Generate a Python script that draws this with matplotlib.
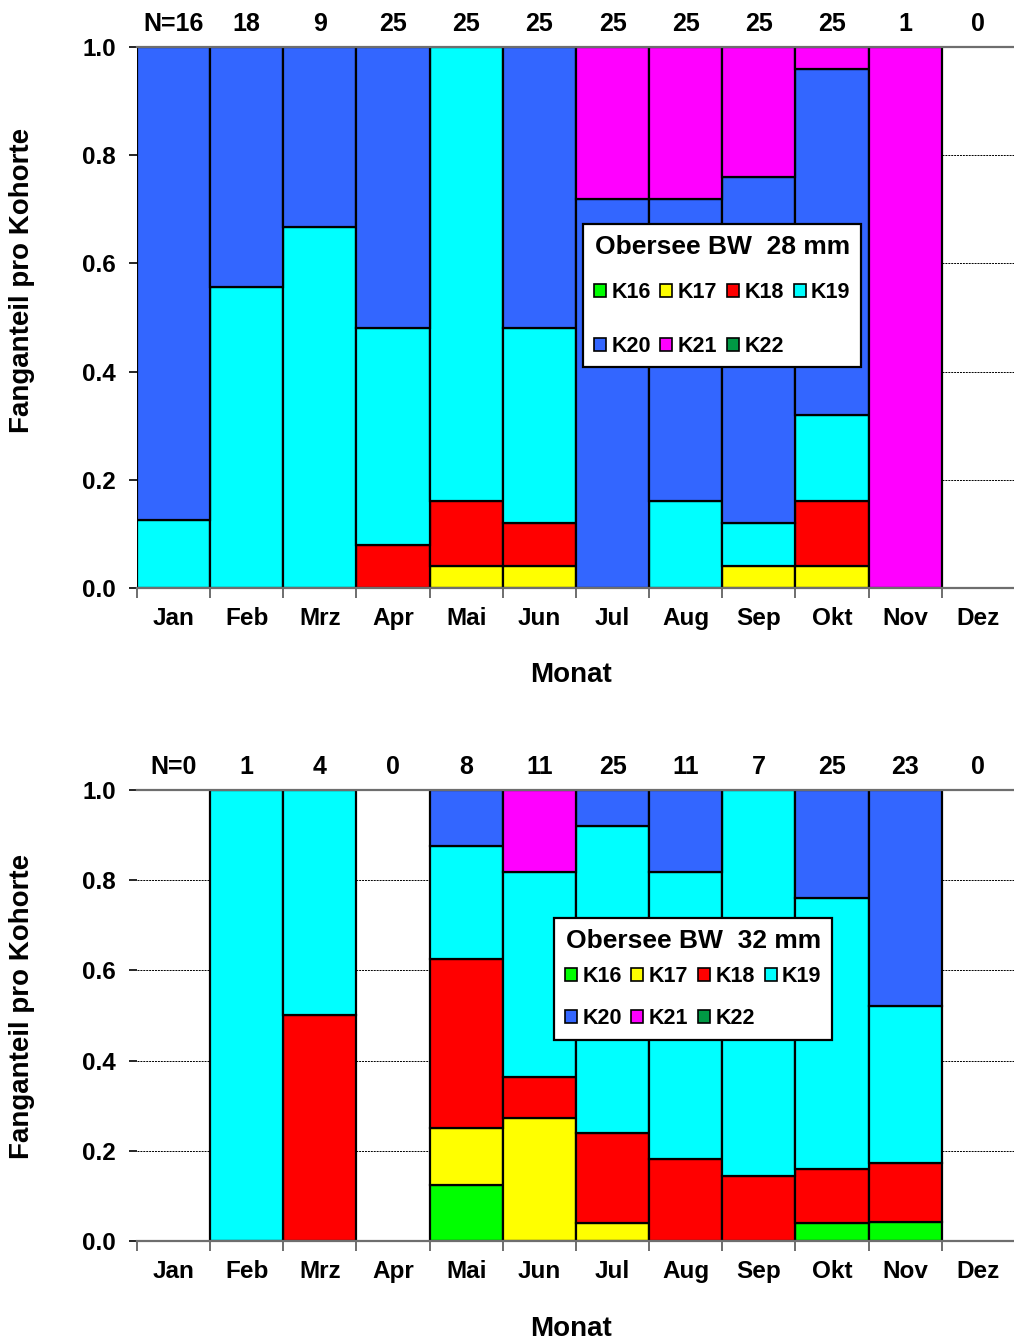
import numpy as np
import matplotlib
matplotlib.use('Agg')
import matplotlib.pyplot as plt
from matplotlib.patches import Patch

plt.rcParams.update({
    'font.family': ['Liberation Sans', 'DejaVu Sans'],
    'font.weight': 'bold',
    'axes.labelweight': 'bold',
})

# ---- Daten ----
months = ['Jan', 'Feb', 'Mrz', 'Apr', 'Mai', 'Jun', 'Jul', 'Aug', 'Sep', 'Okt', 'Nov', 'Dez']
cohorts = ['K16', 'K17', 'K18', 'K19', 'K20', 'K21', 'K22']
cohort_colors = ['#00ff00', '#ffff00', '#ff0000', '#00ffff', '#3366ff', '#ff00ff', '#009944']

# 28 mm
n_28 = [16, 18, 9, 25, 25, 25, 25, 25, 25, 25, 1, 0]
k16_28 = [0, 0, 0, 0, 0, 0, 0, 0, 0, 0, 0, 0]
k17_28 = [0, 0, 0, 0, 0.04, 0.04, 0, 0, 0.04, 0.04, 0, 0]
k18_28 = [0, 0, 0, 0.08, 0.12, 0.08, 0, 0, 0, 0.12, 0, 0]
k19_28 = [0.125, 0.556, 0.667, 0.40, 0.84, 0.36, 0, 0.16, 0.08, 0.16, 0, 0]
k20_28 = [0.875, 0.444, 0.333, 0.52, 0, 0.52, 0.72, 0.56, 0.64, 0.64, 0, 0]
k21_28 = [0, 0, 0, 0, 0, 0, 0.28, 0.28, 0.24, 0.04, 1.0, 0]
k22_28 = [0, 0, 0, 0, 0, 0, 0, 0, 0, 0, 0, 0]

# 32 mm
n_32 = [0, 1, 4, 0, 8, 11, 25, 11, 7, 25, 23, 0]
k16_32 = [0, 0, 0, 0, 0.125, 0, 0, 0, 0, 0.04, 0.043, 0]
k17_32 = [0, 0, 0, 0, 0.125, 0.273, 0.04, 0, 0, 0, 0, 0]
k18_32 = [0, 0, 0.5, 0, 0.375, 0.091, 0.20, 0.182, 0.143, 0.12, 0.13, 0]
k19_32 = [0, 1.0, 0.5, 0, 0.25, 0.455, 0.68, 0.636, 0.857, 0.60, 0.348, 0]
k20_32 = [0, 0, 0, 0, 0.125, 0, 0.08, 0.182, 0, 0.24, 0.478, 0]
k21_32 = [0, 0, 0, 0, 0, 0.182, 0, 0, 0, 0, 0, 0]
k22_32 = [0, 0, 0, 0, 0, 0, 0, 0, 0, 0, 0, 0]

panels = [
    dict(rect=[0.135, 0.5615, 0.866, 0.4034], n=n_28,
         series=[k16_28, k17_28, k18_28, k19_28, k20_28, k21_28, k22_28],
         title='Obersee BW  28 mm', leg_anchor=(583 / 1014, 1 - 224 / 1341),
         labelspacing=1.5, title_sep=17, ylab_y=0.569, xlab_y=-0.161),
    dict(rect=[0.135, 0.0746, 0.866, 0.3363], n=n_32,
         series=[k16_32, k17_32, k18_32, k19_32, k20_32, k21_32, k22_32],
         title='Obersee BW  32 mm', leg_anchor=(554 / 1014, 1 - 918 / 1341),
         labelspacing=1.0, title_sep=9.5, ylab_y=0.519, xlab_y=-0.195),
]

fig = plt.figure(figsize=(10.14, 13.41), dpi=100)
x = np.arange(len(months))

for p in panels:
    ax = fig.add_axes(p['rect'])
    bottom = np.zeros(len(months))
    for vals, col in zip(p['series'], cohort_colors):
        h = np.array(vals, dtype=float)
        m = h > 0
        ax.bar(x[m], h[m], bottom=bottom[m], width=1.0, color=col,
               edgecolor='black', linewidth=1.6, zorder=3)
        bottom += h

    # gestrichelte Gitterlinien
    for yv in [0.2, 0.4, 0.6, 0.8]:
        ax.axhline(yv, color='black', linestyle=(0, (2, 1)), linewidth=0.7, zorder=1)

    ax.set_xlim(-0.5, 11.5)
    ax.set_ylim(0, 1.0)
    ax.set_yticks([0, 0.2, 0.4, 0.6, 0.8, 1.0])
    ax.set_yticklabels(['0.0', '0.2', '0.4', '0.6', '0.8', '1.0'])
    ax.set_xticks(x)
    ax.set_xticklabels(months)
    ax.set_xticks(np.arange(-0.5, 12, 1), minor=True)
    ax.tick_params(axis='x', which='major', length=0, pad=14, labelsize=17.5)
    ax.tick_params(axis='x', which='minor', length=7, width=1.2, color='#555555')
    ax.tick_params(axis='y', length=6, width=1.2, pad=9, labelsize=17.5)

    for s in ['left', 'right']:
        ax.spines[s].set_visible(False)
    for s in ['top', 'bottom']:
        ax.spines[s].set_color('#6e6e6e')
        ax.spines[s].set_linewidth(1.6)
        ax.spines[s].set_zorder(4)

    ax.set_ylabel('Fanganteil pro Kohorte', fontsize=20)
    ax.yaxis.set_label_coords(-0.131, p['ylab_y'])
    ax.yaxis.label.set_va('center')
    ax.set_xlabel('Monat', fontsize=20)
    ax.xaxis.set_label_coords(0.494, p['xlab_y'])
    ax.xaxis.label.set_va('center')

    # N-Werte oberhalb
    for i, n in enumerate(p['n']):
        lab = f'N={n}' if i == 0 else str(n)
        ax.annotate(lab, xy=(i, 1.0), xycoords=('data', 'axes fraction'),
                    xytext=(0, 16.5), textcoords='offset points',
                    ha='center', va='center', fontsize=18, fontweight='bold')

    # Legende: Reihenfolge so, dass Zeilen K16-K19 / K20-K22 ergeben
    order = [0, 4, 1, 5, 2, 6, 3]
    handles = [Patch(facecolor=cohort_colors[k], edgecolor='black', linewidth=1.2)
               for k in order]
    labels = [cohorts[k] for k in order]
    leg = ax.legend(handles, labels, ncol=4, title=p['title'],
                    loc='upper left', bbox_to_anchor=p['leg_anchor'],
                    bbox_transform=fig.transFigure, borderaxespad=0,
                    fontsize=15.5, title_fontproperties={'size': 19, 'weight': 'bold'},
                    handlelength=0.56, handleheight=0.56, handletextpad=0.25,
                    columnspacing=0.45, labelspacing=p['labelspacing'],
                    borderpad=0.5, fancybox=False, framealpha=1,
                    edgecolor='black')
    # Abstand Titel -> Eintraege kleiner als Zeilenabstand
    leg._legend_box.sep = p['title_sep']
    leg.get_frame().set_linewidth(1.6)
    leg.set_zorder(5)

fig.savefig('out.png', dpi=100)
